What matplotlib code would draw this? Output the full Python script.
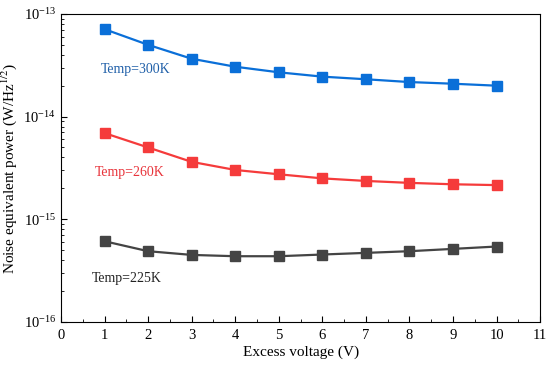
import numpy as np
import matplotlib.pyplot as plt
from matplotlib.ticker import FixedLocator, MultipleLocator

plt.rcParams["font.family"] = "Liberation Serif"
plt.rcParams["mathtext.fontset"] = "stix"
plt.rcParams["font.size"] = 10

# Data
voltage = [1, 2, 3, 4, 5, 6, 7, 8, 9, 10]
nep_300K = [7.1e-14, 5.0e-14, 3.66e-14, 3.06e-14, 2.70e-14, 2.45e-14, 2.31e-14, 2.17e-14, 2.09e-14, 2.0e-14]
nep_260K = [6.9e-15, 5.0e-15, 3.62e-15, 3.02e-15, 2.74e-15, 2.5e-15, 2.36e-15, 2.26e-15, 2.19e-15, 2.15e-15]
nep_225K = [6.1e-16, 4.88e-16, 4.49e-16, 4.36e-16, 4.36e-16, 4.53e-16, 4.70e-16, 4.88e-16, 5.14e-16, 5.42e-16]

decades = [1e-16, 1e-15, 1e-14, 1e-13]

fig = plt.figure(figsize=(5.5, 3.67), dpi=100)
ax = fig.add_axes([0.111, 0.123, 0.871, 0.839])

ax.plot(voltage, nep_300K, color='#0a6fd8', marker='s', markersize=6.5, lw=1.6)
ax.plot(voltage, nep_260K, color='#f53b3b', marker='s', markersize=6.5, lw=1.6)
ax.plot(voltage, nep_225K, color='#444444', marker='s', markersize=6.5, lw=1.6)

ax.text(0.92, 2.85e-14, 'Temp=300K', color='#1f5fa8', fontsize=10, va='center')
ax.text(0.78, 2.88e-15, 'Temp=260K', color='#e8333a', fontsize=10, va='center')
ax.text(0.71, 2.66e-16, 'Temp=225K', color='#222222', fontsize=10, va='center')

ax.set_yscale('log')
ax.set_xlim(0, 11)
ax.set_ylim(1e-16, 1e-13)
ax.xaxis.set_major_locator(MultipleLocator(1))
ax.xaxis.set_minor_locator(MultipleLocator(0.5))
ax.yaxis.set_major_locator(FixedLocator(decades))
minor = [d * k for d in decades[:-1] for k in range(2, 10)]
ax.yaxis.set_minor_locator(FixedLocator(minor))
ax.yaxis.set_minor_formatter(plt.NullFormatter())
ax.tick_params(which='both', direction='in', top=False, right=False)
ax.tick_params(which='major', length=4, labelsize=10.5)
ax.tick_params(which='minor', length=2)
ax.tick_params(axis='x', which='major', pad=5)

ax.set_xlabel('Excess voltage (V)', fontsize=11, labelpad=3)
ax.set_ylabel('Noise equivalent power (W/Hz$^{1/2}$)', fontsize=11, labelpad=3)

fig.savefig('out.png', dpi=100)
